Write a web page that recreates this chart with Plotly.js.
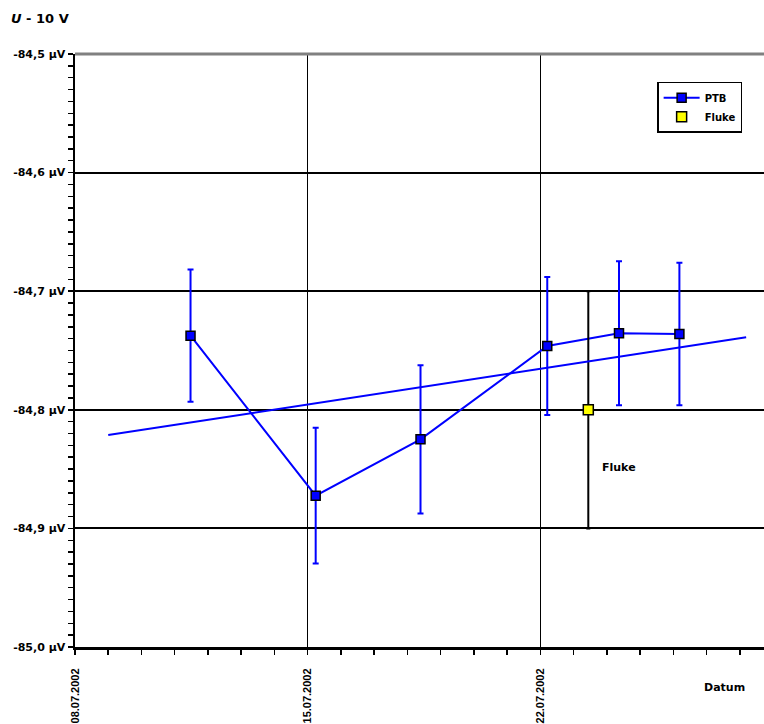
<!DOCTYPE html>
<html>
<head>
<meta charset="utf-8">
<script src="https://cdn.plot.ly/plotly-3.0.1.min.js"></script>
<style>
html,body{margin:0;padding:0;overflow:hidden;background:#fff;}
#chart{width:800px;height:724px;}
</style>
</head>
<body>
<div id="chart"></div>
<script>
// ---- data ----
const ptbDates   = ['2002-07-11 11:25','2002-07-15 05:47','2002-07-18 09:29','2002-07-22 05:00','2002-07-24 08:48','2002-07-26 04:25'];
const ptbValues  = [-84.7375,-84.8724,-84.8249,-84.7462,-84.7355,-84.7361];
const ptbUncert  = [0.0558,0.0573,0.0625,0.0582,0.0607,0.0600];

const flukeDates  = ['2002-07-23 10:38'];
const flukeValues = [-84.800];
const flukeUncert = [0.100];

const trendDates  = ['2002-07-09 00:00','2002-07-28 04:37'];
const trendValues = [-84.8213,-84.7389];

const xTickVals = ['2002-07-08','2002-07-15','2002-07-22','2002-07-29'];
const xTickText = ['08.07.2002','15.07.2002','22.07.2002','29.07.2002'];
const yTickVals = [-85.0,-84.9,-84.8,-84.7,-84.6,-84.5];
const yTickText = ['-85,0 µV','-84,9 µV','-84,8 µV','-84,7 µV','-84,6 µV','-84,5 µV'];

const boldFont = 'DejaVu Sans, Arial, sans-serif';
const arialFont = 'Liberation Sans, Arial, sans-serif';

const traces = [
  {
    x: ptbDates, y: ptbValues, name: 'PTB', type: 'scatter', mode: 'lines+markers',
    line: {color: '#0000FF', width: 2},
    marker: {symbol: 'square', size: 9, color: '#0000FF', line: {color: '#000', width: 1.5}},
    error_y: {type: 'data', array: ptbUncert, visible: true, color: '#0000FF', thickness: 2, width: 3}
  },
  {
    x: flukeDates, y: flukeValues, name: 'Fluke', type: 'scatter', mode: 'markers',
    marker: {symbol: 'square', size: 10, color: '#FFFF00', line: {color: '#000', width: 1.5}},
    error_y: {type: 'data', array: flukeUncert, visible: true, color: '#000', thickness: 2, width: 2}
  },
  {
    x: trendDates, y: trendValues, name: 'Trend', type: 'scatter', mode: 'lines',
    line: {color: '#0000FF', width: 2}, showlegend: false, hoverinfo: 'skip'
  }
];

const layout = {
  width: 800, height: 724,
  margin: {l: 75, r: 27, t: 54, b: 77},
  paper_bgcolor: '#fff', plot_bgcolor: '#fff',
  font: {family: boldFont, color: '#000', size: 11, weight: 'bold'},
  title: {
    text: '<b><i>U</i> - 10 V</b>',
    font: {family: boldFont, size: 13, color: '#000', weight: 'bold'},
    x: 11/800, xref: 'container', xanchor: 'left',
    y: 1 - 18/724, yref: 'container', yanchor: 'middle'
  },
  showlegend: true,
  legend: {
    x: 0.834, y: 0.91, xanchor: 'left', yanchor: 'middle',
    bgcolor: '#fff', bordercolor: '#000', borderwidth: 1.5,
    font: {family: boldFont, size: 10, color: '#000', weight: 'bold'},
    tracegroupgap: 0, itemwidth: 36, entrywidth: 90, entrywidthmode: 'pixels'
  },
  xaxis: {
    type: 'date',
    range: ['2002-07-08', '2002-07-29'],
    tickmode: 'array', tickvals: xTickVals, ticktext: xTickText,
    tickangle: -90,
    tickfont: {family: arialFont, size: 11, color: '#000', weight: 'bold'},
    ticks: 'outside', ticklen: 5, tickwidth: 1.5, tickcolor: '#000',
    ticklabelstandoff: 9,
    minor: {tickmode: 'linear', tick0: '2002-07-08', dtick: 86400000, ticks: 'outside', ticklen: 5, tickwidth: 1.5, tickcolor: '#000', showgrid: false},
    showgrid: true, gridcolor: '#000', gridwidth: 1.3,
    showline: true, linecolor: '#000', linewidth: 3,
    zeroline: false, fixedrange: true
  },
  yaxis: {
    range: [-85.0, -84.5],
    tickmode: 'array', tickvals: yTickVals, ticktext: yTickText,
    tickfont: {family: boldFont, size: 11, color: '#000', weight: 'bold'},
    ticks: 'outside', ticklen: 5, tickwidth: 1.5, tickcolor: '#000',
    minor: {tickmode: 'linear', tick0: -85, dtick: 0.01, ticks: 'outside', ticklen: 5, tickwidth: 1.5, tickcolor: '#000', showgrid: false},
    showgrid: true, gridcolor: '#000', gridwidth: 2,
    showline: true, linecolor: '#000', linewidth: 2.5,
    zeroline: false, fixedrange: true
  },
  shapes: [
    {type: 'line', xref: 'paper', yref: 'paper', x0: 0, x1: 1, y0: 1, y1: 1, line: {color: '#808080', width: 3}}
  ],
  annotations: [
    {text: '<b>Fluke</b>', x: '2002-07-24 09:00', y: -84.849, xref: 'x', yref: 'y', showarrow: false,
     font: {family: boldFont, size: 11, color: '#000', weight: 'bold'}},
    {text: '<b>Datum</b>', x: '2002-07-27 12:45', y: -0.083, xref: 'x', yref: 'paper', showarrow: false,
     font: {family: boldFont, size: 11, color: '#000', weight: 'bold'}}
  ]
};

Plotly.newPlot('chart', traces, layout, {displayModeBar: false, staticPlot: true});
</script>
</body>
</html>
